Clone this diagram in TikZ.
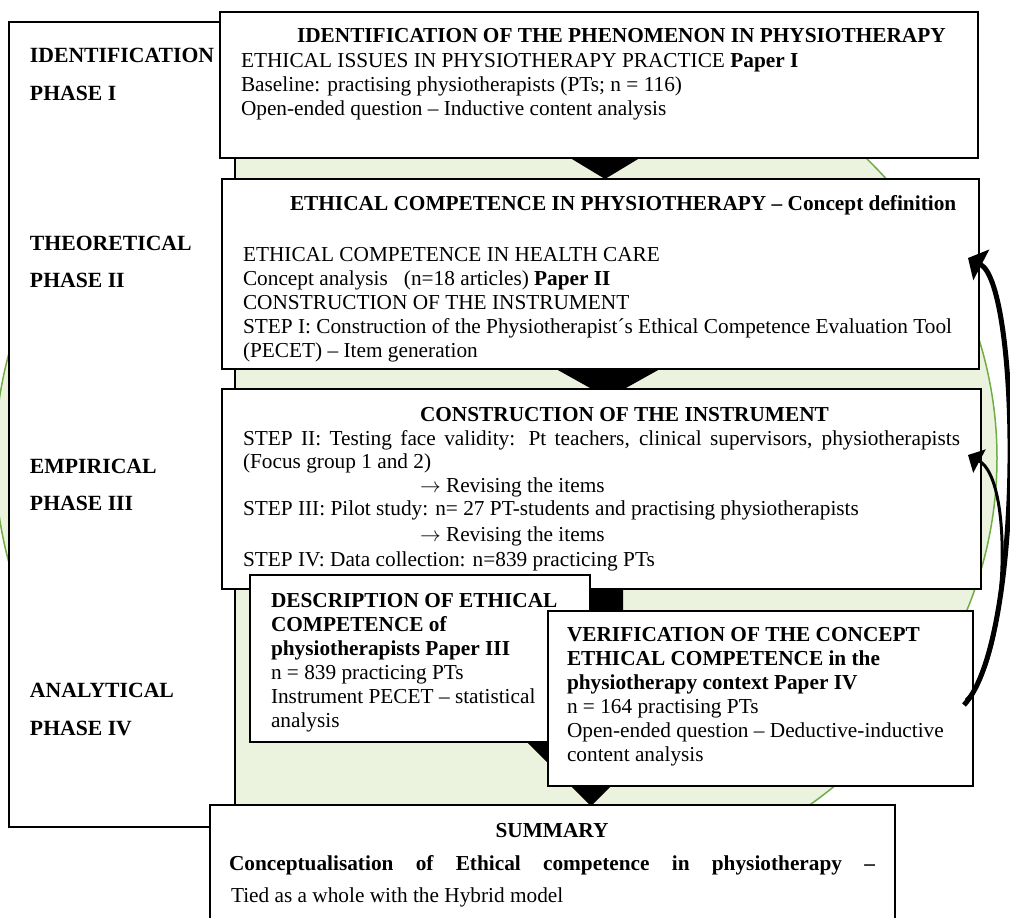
\documentclass[tikz,border=0pt]{standalone}
\usepackage{fontspec}
\setmainfont{Liberation Serif}
\usetikzlibrary{arrows.meta}
\definecolor{ringfill}{RGB}{235,242,221}
\definecolor{ringline}{RGB}{112,173,71}
\begin{document}
\begin{tikzpicture}[x=1pt,y=-1pt,
  panel/.style={draw=black,line width=1.6pt,fill=white,anchor=north west,
    inner sep=0pt,outer sep=0pt},
  txt/.style={anchor=base west,inner sep=0pt,outer sep=0pt,
    font=\fontsize{21.3}{24}\selectfont},
  btxt/.style={txt,font=\fontsize{21.3}{24}\selectfont\bfseries},
  lab/.style={txt,font=\fontsize{21.7}{24}\selectfont\bfseries},
  flowhead/.style={fill=black},
  loop/.style={draw=black,-{Triangle[length=15pt,width=34pt]}}]
\useasboundingbox (0,0) rectangle (1010,918);
\clip (0,0) rectangle (1010,918);

% background ellipse
\draw[fill=ringfill,draw=ringline,line width=1.5pt]
  (496,458) ellipse [x radius=501pt, y radius=445pt];

% phase column
\node[panel,minimum width=226pt,minimum height=805pt] (frame) at (9,22) {};
\node[lab] (l1a) at (30,62) {IDENTIFICATION};
\node[lab] (l1b) at (30,100) {PHASE I};
\node[lab] (l2a) at (30,250) {THEORETICAL};
\node[lab] (l2b) at (30,287) {PHASE II};
\node[lab] (l3a) at (30,473) {EMPIRICAL};
\node[lab] (l3b) at (30,510) {PHASE III};
\node[lab] (l4a) at (30,697) {ANALYTICAL};
\node[lab] (l4b) at (30,735) {PHASE IV};

% flow heads between the steps
\fill[flowhead] (557,150) -- (653,150) -- (605,179) -- cycle;
\fill[flowhead] (522,350) -- (694,350) -- (608,398) -- cycle;
\fill[flowhead] (559,570) -- (623,570) -- (623,700) -- (697,700)
  -- (591,806) -- (485,700) -- (559,700) -- cycle;

% step I
\node[panel,minimum width=758pt,minimum height=146pt] (b1) at (220,12) {};
\node[btxt] (b1h) at (297,42) {IDENTIFICATION OF THE PHENOMENON IN PHYSIOTHERAPY};
\node[txt] (b1a) at (241,67) {ETHICAL ISSUES IN PHYSIOTHERAPY PRACTICE \textbf{Paper I}};
\node[txt] (b1b) at (241,91) {Baseline: practising physiotherapists (PTs; n = 116)};
\node[txt] (b1c) at (241,115) {Open-ended question – Inductive content analysis};

% step II
\node[panel,minimum width=757pt,minimum height=190pt] (b2) at (222,179) {};
\node[btxt] (b2h) at (290,210) {ETHICAL COMPETENCE IN PHYSIOTHERAPY – Concept definition};
\node[txt] (b2a) at (243,261) {ETHICAL COMPETENCE IN HEALTH CARE};
\node[txt] (b2b) at (243,285) {Concept analysis\ \ \ (n=18 articles) \textbf{Paper II}};
\node[txt] (b2c) at (243,309) {CONSTRUCTION OF THE INSTRUMENT};
\node[txt] (b2d) at (243,333) {STEP I: Construction of the Physiotherapist´s Ethical Competence Evaluation Tool};
\node[txt] (b2e) at (243,357) {(PECET) – Item generation};

% step III
\node[panel,minimum width=759pt,minimum height=200pt] (b3) at (222,389) {};
\node[btxt] (b3h) at (420,421) {CONSTRUCTION OF THE INSTRUMENT};
\node[txt] (b3a) at (243,445) {\makebox[717pt][s]{STEP II: Testing face validity: Pt teachers, clinical supervisors, physiotherapists}};
\node[txt] (b3b) at (243,468) {(Focus group 1 and 2)};
\node[txt] (b3c) at (420,492) {\(\rightarrow\) Revising the items};
\node[txt] (b3d) at (243,515) {STEP III: Pilot study: n= 27 PT-students and practising physiotherapists};
\node[txt] (b3e) at (420,541) {\(\rightarrow\) Revising the items};
\node[txt] (b3f) at (243,566) {STEP IV: Data collection: n=839 practicing PTs};

% step IV, description
\node[panel,minimum width=340pt,minimum height=167pt] (b4) at (250,575) {};
\node[btxt] (b4a) at (271,607) {DESCRIPTION OF ETHICAL};
\node[btxt] (b4b) at (271,631) {COMPETENCE of};
\node[btxt] (b4c) at (271,655) {physiotherapists Paper III};
\node[txt] (b4d) at (271,679) {n = 839 practicing PTs};
\node[txt] (b4e) at (271,703) {Instrument PECET – statistical};
\node[txt] (b4f) at (271,727) {analysis};

% step IV, verification
\node[panel,minimum width=425pt,minimum height=175pt] (b5) at (548,611) {};
\node[btxt] (b5a) at (567,641) {VERIFICATION OF THE CONCEPT};
\node[btxt] (b5b) at (567,665) {ETHICAL COMPETENCE in the};
\node[btxt] (b5c) at (567,689) {physiotherapy context Paper IV};
\node[txt] (b5d) at (567,713) {n = 164 practising PTs};
\node[txt] (b5e) at (567,737) {Open-ended question – Deductive-inductive};
\node[txt] (b5f) at (567,761) {content analysis};

% summary
\node[panel,minimum width=685pt,minimum height=130pt] (b6) at (210,805) {};
\node[btxt,anchor=base] (b6h) at (552,837) {SUMMARY};
\node[btxt] (b6a) at (229,870) {\makebox[646pt][s]{Conceptualisation of Ethical competence in physiotherapy –}};
\node[txt] (b6b) at (231,902) {Tied as a whole with the Hybrid model};

% feedback loops from the verification back to the earlier steps
\coordinate (tail1) at (964,705);
\coordinate (tail2) at (966,700);
\coordinate (tip1) at (968,258);
\coordinate (tip2) at (968,455);
\draw[loop,line width=5pt] (tail1) .. controls (1025,640) and (1020,285) .. (tip1);
\draw[loop,line width=3pt,-{Triangle[length=13pt,width=26pt]}]
  (tail2) .. controls (1008,660) and (1015,480) .. (tip2);
\end{tikzpicture}
\end{document}
